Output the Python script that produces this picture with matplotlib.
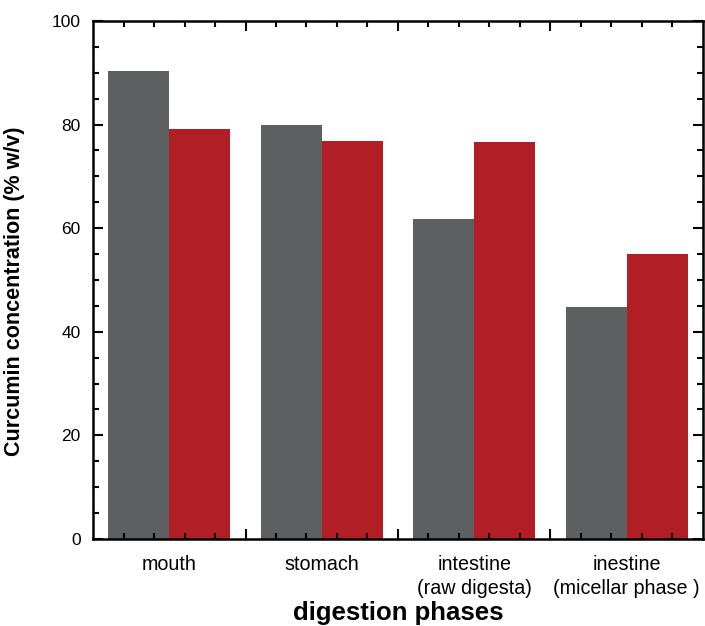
import matplotlib
matplotlib.use('Agg')
import matplotlib.pyplot as plt
import numpy as np
from matplotlib.ticker import FixedLocator, MultipleLocator

plt.rcParams['font.family'] = ['Liberation Sans', 'DejaVu Sans']

phases = ['mouth', 'stomach', 'intestine\n(raw digesta)', 'inestine\n(micellar phase )']
gray_vals = [90.3, 80.0, 61.7, 44.7]
red_vals = [79.1, 76.8, 76.6, 55.0]

fig = plt.figure(figsize=(7.05, 6.26), dpi=100)
ax = fig.add_axes([0.132, 0.139, 0.865, 0.8275])

x = np.arange(len(phases))
w = 0.4
ax.bar(x - w / 2, gray_vals, width=w, color='#5e5f61')
ax.bar(x + w / 2, red_vals, width=w, color='#b11e26')

ax.set_xlim(-0.5, 3.5)
ax.set_ylim(0, 100)

# ticks: inward on all four sides
ax.xaxis.set_major_locator(FixedLocator([0.5, 1.5, 2.5]))
ax.xaxis.set_minor_locator(FixedLocator([v for v in np.arange(-0.3, 3.5, 0.2)
                                         if abs((v - 0.5) % 1) > 0.05 and abs((v - 0.5) % 1 - 1) > 0.05]))
ax.set_xticklabels([])
ax.yaxis.set_major_locator(MultipleLocator(20))
ax.yaxis.set_minor_locator(MultipleLocator(5))
ax.tick_params(which='both', direction='in', top=True, right=True, width=1.5)
ax.tick_params(which='major', length=7)
ax.tick_params(which='minor', length=4)
ax.tick_params(axis='y', labelsize=12.5, pad=9)
for s in ax.spines.values():
    s.set_linewidth(1.8)

for xi, name in zip(x, phases):
    ax.text(xi, -0.031, name, transform=ax.get_xaxis_transform(),
            ha='center', va='top', fontsize=14.2, linespacing=1.3)

ax.text(0.5, -0.143, 'digestion phases', transform=ax.transAxes,
        ha='center', va='center', fontsize=18.5, fontweight='bold')
ax.set_ylabel('Curcumin concentration (% w/v)', fontsize=15.5, fontweight='bold')
ax.yaxis.set_label_coords(-0.111, 0.479)

fig.savefig('out.png', dpi=100)
